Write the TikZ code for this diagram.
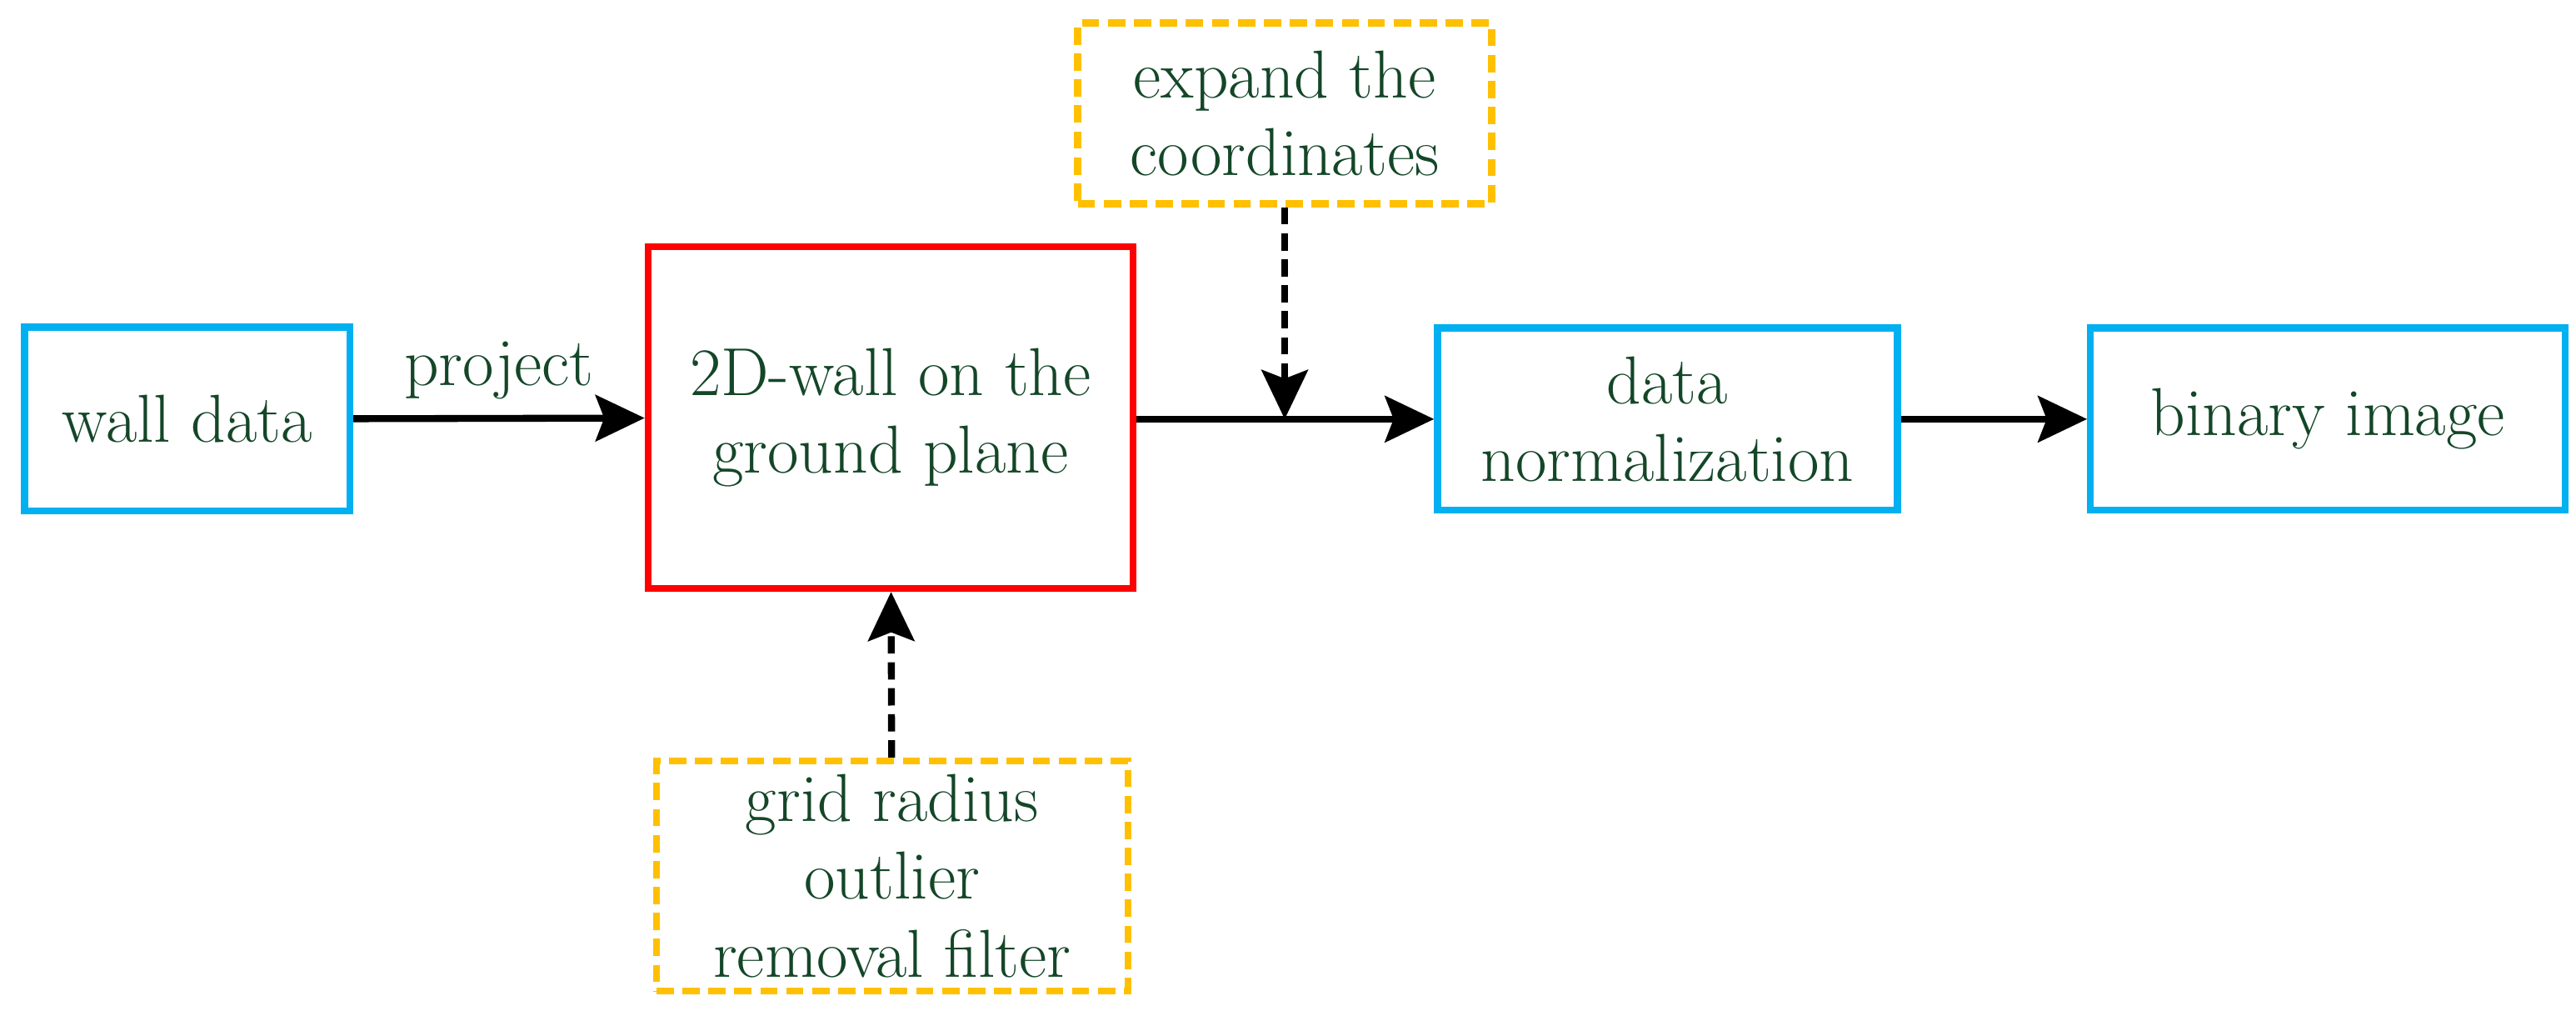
\documentclass[tikz,border=0pt]{standalone}
\usetikzlibrary{arrows.meta}
\definecolor{txt}{RGB}{20,70,40}
\definecolor{bl}{RGB}{0,176,240}
\definecolor{og}{RGB}{255,192,0}
\begin{document}
\begin{tikzpicture}[x=0.02cm,y=-0.02cm,
  fnt/.style={font=\fontsize{23.5}{27}\selectfont},
  box/.style={draw=bl,line width=2.4pt,text=txt,fnt,align=center,inner sep=0pt},
  dbox/.style={draw=og,line width=2.4pt,dash pattern=on 6pt off 3pt,text=txt,fnt,align=center,inner sep=0pt},
  arr/.style={line width=2.4pt,-{Stealth[length=17pt,width=16pt,inset=3pt]}},
  darr/.style={arr,dash pattern=on 6pt off 3pt}]
\useasboundingbox (0,0) rectangle (1568,615);
\node[box,minimum width=198*0.02cm,minimum height=112*0.02cm] (w) at (114,255) {wall data};
\node[box,draw=red,minimum width=295*0.02cm,minimum height=208*0.02cm] (g) at (542,254) {2D-wall on the\\ground plane};
\node[box,minimum width=280*0.02cm,minimum height=111*0.02cm] (n) at (1015,255) {data\\normalization};
\node[box,minimum width=289*0.02cm,minimum height=111*0.02cm] (b) at (1417,255) {binary image};
\node[dbox,minimum width=252*0.02cm,minimum height=110*0.02cm] (e) at (782,69) {expand the\\coordinates};
\node[dbox,minimum width=287*0.02cm,minimum height=140*0.02cm] (r) at (543,533) {grid radius\\outlier\\removal filter};
\coordinate (m) at (782,255);
\draw[arr] (w) -- node[above=2pt,text=txt,fnt]{project} (g);
\draw[arr] (g.east |- n) -- (n);
\draw[arr] (n) -- (b);
\draw[darr] (e) -- (m);
\draw[darr] (r) -- (g);
\end{tikzpicture}
\end{document}
